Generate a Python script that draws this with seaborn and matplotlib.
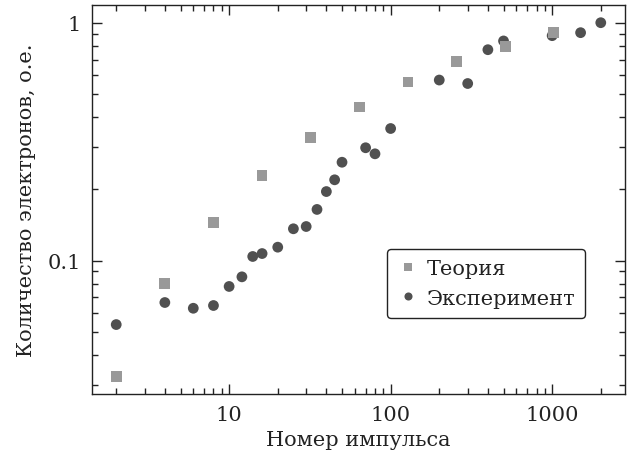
import numpy as np
import pandas as pd
import matplotlib
matplotlib.use("Agg")
import matplotlib.pyplot as plt
import seaborn as sns
from matplotlib.ticker import LogLocator, FuncFormatter, NullFormatter

theory_x = [2, 4, 8, 16, 32, 64, 128, 256, 512, 1024]
theory_y = [0.0326, 0.080, 0.144, 0.227, 0.328, 0.442, 0.563, 0.685, 0.795, 0.91]

exp_x = [2, 4, 6, 8, 10, 12, 14, 16, 20, 25, 30, 35, 40, 45, 50, 70, 80, 100,
         200, 300, 400, 500, 1000, 1500, 2000]
exp_y = [0.0538, 0.0666, 0.063, 0.0647, 0.0778, 0.0854, 0.104, 0.107, 0.1138,
         0.136, 0.139, 0.164, 0.195, 0.2185, 0.259, 0.298, 0.281, 0.359,
         0.574, 0.555, 0.770, 0.838, 0.882, 0.908, 1.0]

labels = ["Теория", "Эксперимент"]
xlabel = "Номер импульса"
ylabel = "Количество электронов, о.е."

sns.set_theme(style="ticks")
plt.rcParams['font.family'] = ['DejaVu Serif']
plt.rcParams['text.color'] = '#222222'

# experiment first so theory squares are drawn on top
df = pd.concat([
    pd.DataFrame({"x": exp_x, "y": exp_y, "kind": labels[1]}),
    pd.DataFrame({"x": theory_x, "y": theory_y, "kind": labels[0]}),
], ignore_index=True)

fig = plt.figure(figsize=(6.31, 4.56), dpi=100)
ax = fig.add_axes([0.1458, 0.1338, 0.8447, 0.853])

sns.scatterplot(data=df, x="x", y="y", hue="kind", style="kind",
                hue_order=labels, style_order=labels,
                palette={labels[0]: "#999999", labels[1]: "#505050"},
                markers={labels[0]: "s", labels[1]: "o"},
                s=60, edgecolor="none", linewidth=0, ax=ax, zorder=3)
ax.set_xscale("log")
ax.set_yscale("log")

def fmt(v, pos):
    if v >= 1:
        return f"{int(round(v))}"
    return f"{v:g}"

ax.xaxis.set_major_locator(LogLocator(base=10))
ax.yaxis.set_major_locator(LogLocator(base=10))
ax.xaxis.set_major_formatter(FuncFormatter(fmt))
ax.yaxis.set_major_formatter(FuncFormatter(fmt))
ax.xaxis.set_minor_formatter(NullFormatter())
ax.yaxis.set_minor_formatter(NullFormatter())

ax.tick_params(which="both", direction="in", top=True, right=True,
               color="#222222", width=1.0, labelsize=15, labelcolor="#222222")
ax.tick_params(which="major", length=7, pad=8)
ax.tick_params(which="minor", length=4)
for s in ax.spines.values():
    s.set_linewidth(1.0)
    s.set_color("#222222")

ax.set_xlabel(xlabel, fontsize=15, color="#222222", labelpad=4)
ax.set_ylabel(ylabel, fontsize=15, color="#222222", labelpad=8)

leg = ax.legend(loc="upper left", bbox_to_anchor=(0.553, 0.373), fontsize=15,
                frameon=True, fancybox=True, edgecolor="#222222",
                handletextpad=0.4, borderpad=0.5, labelspacing=0.5,
                markerscale=0.75, handlelength=1.0, borderaxespad=0,
                framealpha=1, title=None)
leg.get_frame().set_linewidth(1.0)

fig.savefig("out.png", dpi=100)
